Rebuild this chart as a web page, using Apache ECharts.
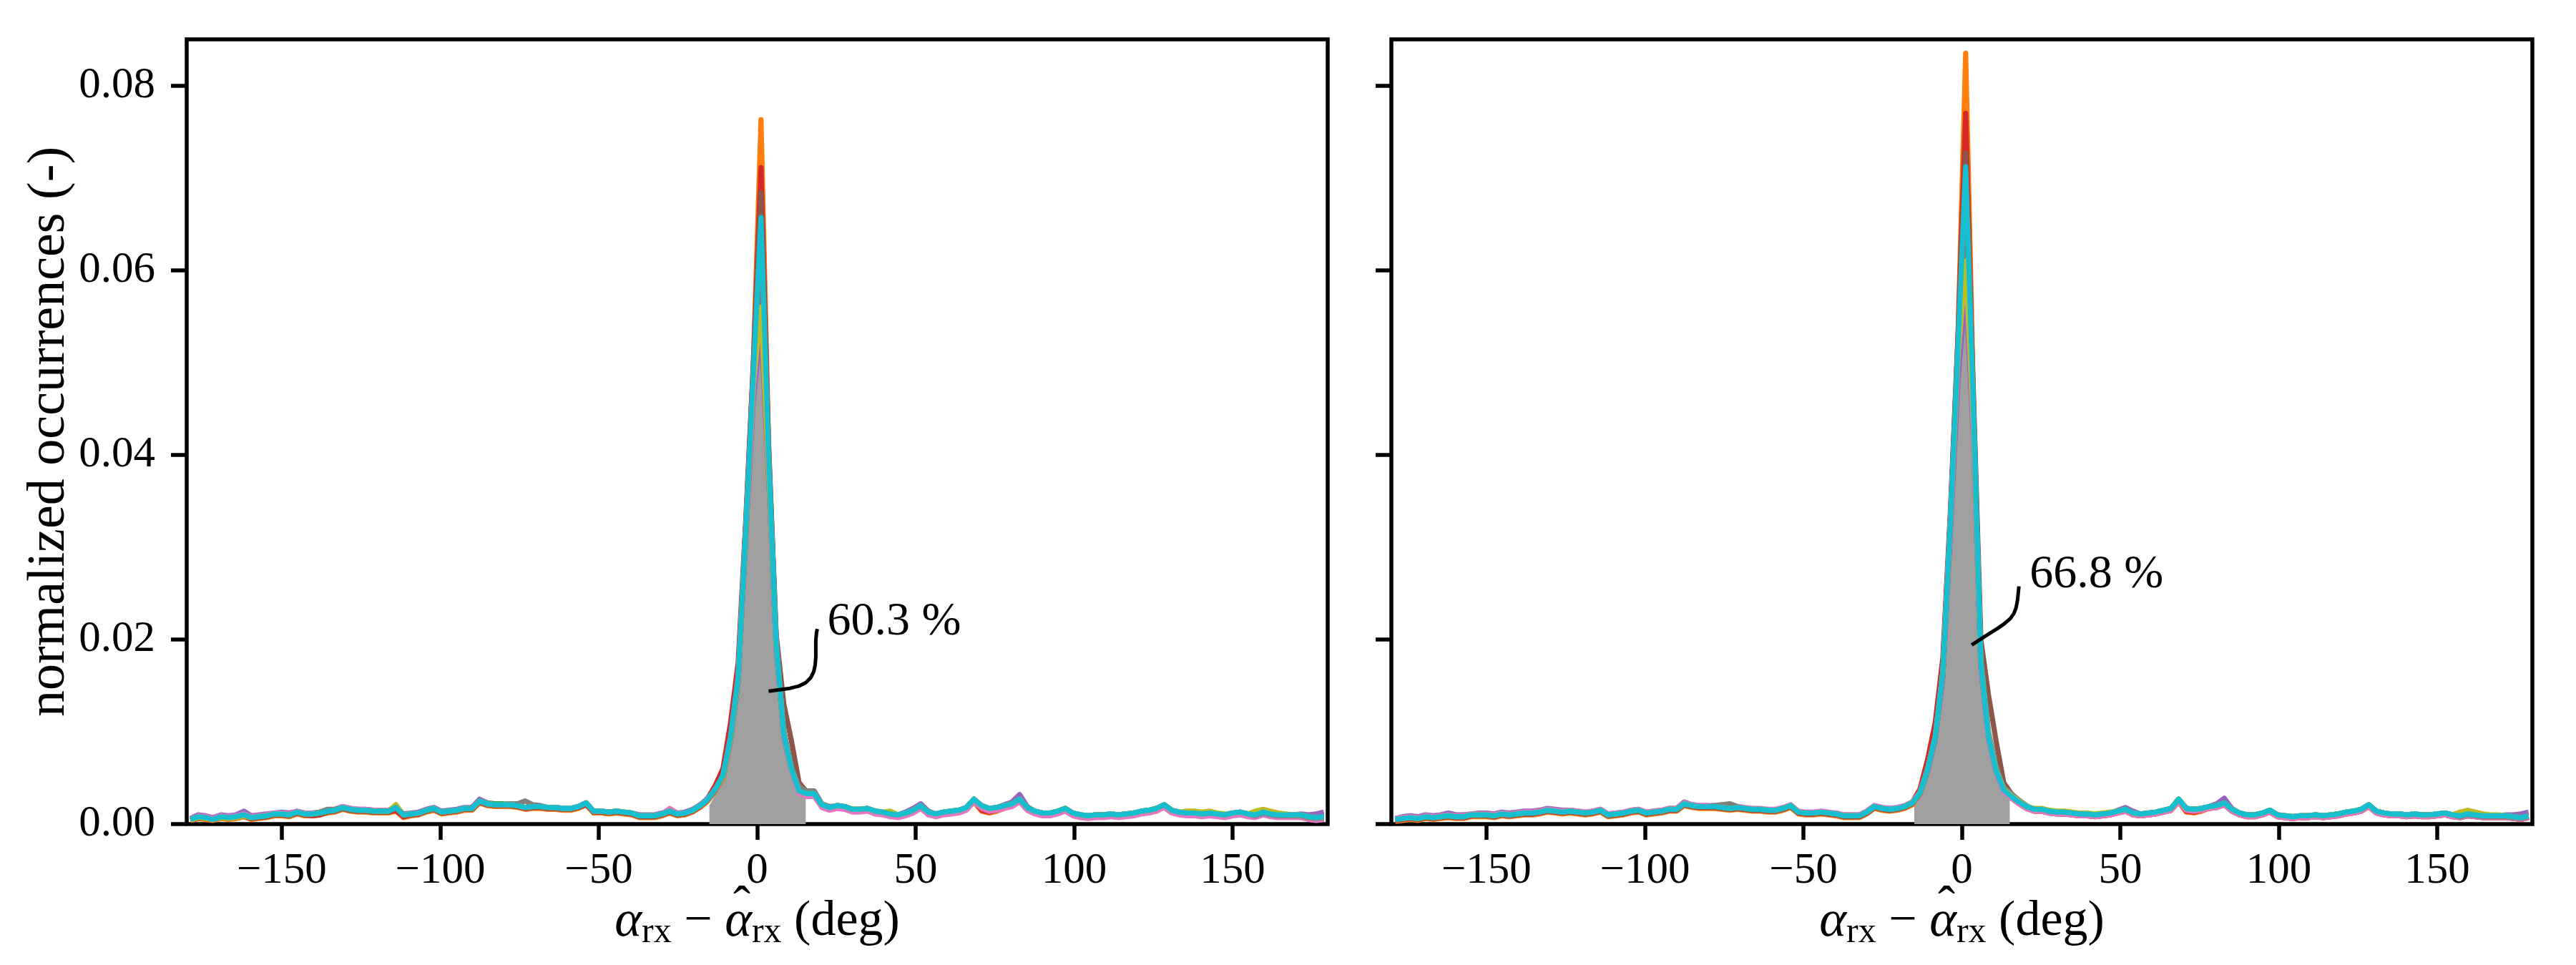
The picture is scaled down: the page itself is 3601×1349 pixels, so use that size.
<!DOCTYPE html>
<html><head><meta charset="utf-8">
<script src="https://cdn.jsdelivr.net/npm/echarts@6/dist/echarts.min.js"></script>
<style>html,body{margin:0;padding:0;background:#fff}#c{width:3601px;height:1349px}</style>
</head><body><div id="c"></div>
<script>
// ---------------- data ----------------
const binCenters = [
-178.8,-176.4,-174,-171.6,-169.2,-166.8,-164.4,-162,-159.6,-157.2,
-154.8,-152.4,-150,-147.6,-145.2,-142.8,-140.4,-138,-135.6,-133.2,
-130.8,-128.4,-126,-123.6,-121.2,-118.8,-116.4,-114,-111.6,-109.2,
-106.8,-104.4,-102,-99.6,-97.2,-94.8,-92.4,-90,-87.6,-85.2,
-82.8,-80.4,-78,-75.6,-73.2,-70.8,-68.4,-66,-63.6,-61.2,
-58.8,-56.4,-54,-51.6,-49.2,-46.8,-44.4,-42,-39.6,-37.2,
-34.8,-32.4,-30,-27.6,-25.2,-22.8,-20.4,-18,-15.6,-13.2,
-10.8,-8.4,-6,-3.6,-1.2,1.2,3.6,6,8.4,10.8,
13.2,15.6,18,20.4,22.8,25.2,27.6,30,32.4,34.8,
37.2,39.6,42,44.4,46.8,49.2,51.6,54,56.4,58.8,
61.2,63.6,66,68.4,70.8,73.2,75.6,78,80.4,82.8,
85.2,87.6,90,92.4,94.8,97.2,99.6,102,104.4,106.8,
109.2,111.6,114,116.4,118.8,121.2,123.6,126,128.4,130.8,
133.2,135.6,138,140.4,142.8,145.2,147.6,150,152.4,154.8,
157.2,159.6,162,164.4,166.8,169.2,171.6,174,176.4,178.8];

const xTicks = [-150,-100,-50,0,50,100,150];
const yTicks = [0,0.02,0.04,0.06,0.08];

// ---- left panel ----
const leftBlue = [
0.0004,0.0007,0.0006,0.0005,0.0007,0.0006,0.0007,0.0009,0.0006,0.0007,
0.0008,0.0010,0.0010,0.0009,0.0012,0.0010,0.0010,0.0011,0.0013,0.0014,
0.0017,0.0015,0.0014,0.0013,0.0013,0.0013,0.0013,0.0016,0.0009,0.0010,
0.0011,0.0014,0.0016,0.0012,0.0013,0.0014,0.0016,0.0016,0.0024,0.0021,
0.0020,0.0020,0.0020,0.0019,0.0017,0.0018,0.0018,0.0017,0.0017,0.0016,
0.0016,0.0018,0.0022,0.0013,0.0013,0.0012,0.0013,0.0012,0.0011,0.0008,
0.0008,0.0008,0.0010,0.0013,0.0010,0.0011,0.0014,0.0019,0.0026,0.0036,
0.0050,0.0090,0.0155,0.0315,0.0470,0.0600,0.0380,0.0190,0.0095,0.0058,
0.0034,0.0031,0.0031,0.0020,0.0017,0.0019,0.0018,0.0015,0.0015,0.0016,
0.0013,0.0012,0.0010,0.0009,0.0011,0.0014,0.0019,0.0012,0.0010,0.0012,
0.0013,0.0014,0.0017,0.0025,0.0019,0.0016,0.0017,0.0019,0.0021,0.0026,
0.0017,0.0013,0.0011,0.0011,0.0013,0.0016,0.0011,0.0009,0.0008,0.0009,
0.0009,0.0010,0.0009,0.0010,0.0011,0.0013,0.0014,0.0016,0.0020,0.0014,
0.0012,0.0011,0.0011,0.0010,0.0011,0.0010,0.0009,0.0011,0.0012,0.0010,
0.0009,0.0012,0.0010,0.0009,0.0009,0.0009,0.0009,0.0007,0.0006,0.0007];
const leftOrange = [
0.0004,0.0006,0.0005,0.0004,0.0006,0.0005,0.0006,0.0008,0.0005,0.0006,
0.0007,0.0009,0.0009,0.0008,0.0011,0.0009,0.0009,0.0010,0.0012,0.0013,
0.0016,0.0014,0.0013,0.0013,0.0012,0.0012,0.0012,0.0014,0.0007,0.0009,
0.0010,0.0013,0.0015,0.0011,0.0012,0.0013,0.0015,0.0015,0.0023,0.0020,
0.0019,0.0019,0.0019,0.0018,0.0016,0.0017,0.0017,0.0016,0.0016,0.0015,
0.0015,0.0017,0.0021,0.0012,0.0012,0.0011,0.0012,0.0011,0.0010,0.0007,
0.0007,0.0007,0.0009,0.0012,0.0009,0.0010,0.0013,0.0018,0.0025,0.0036,
0.0050,0.0092,0.0158,0.0325,0.0500,0.0763,0.0410,0.0198,0.0100,0.0060,
0.0034,0.0031,0.0031,0.0019,0.0016,0.0018,0.0017,0.0014,0.0014,0.0015,
0.0012,0.0011,0.0009,0.0008,0.0010,0.0013,0.0018,0.0011,0.0009,0.0011,
0.0012,0.0013,0.0016,0.0024,0.0014,0.0012,0.0014,0.0017,0.0020,0.0025,
0.0016,0.0012,0.0010,0.0010,0.0012,0.0015,0.0010,0.0008,0.0007,0.0008,
0.0008,0.0009,0.0008,0.0009,0.0010,0.0012,0.0013,0.0015,0.0019,0.0013,
0.0011,0.0010,0.0010,0.0009,0.0010,0.0009,0.0008,0.0010,0.0011,0.0009,
0.0008,0.0011,0.0009,0.0008,0.0008,0.0008,0.0008,0.0006,0.0005,0.0006];
const leftGreen = [
0.0005,0.0007,0.0007,0.0005,0.0008,0.0007,0.0008,0.0010,0.0007,0.0008,
0.0009,0.0011,0.0011,0.0010,0.0013,0.0011,0.0011,0.0012,0.0014,0.0015,
0.0018,0.0016,0.0015,0.0015,0.0014,0.0014,0.0014,0.0017,0.0010,0.0011,
0.0012,0.0015,0.0017,0.0013,0.0014,0.0015,0.0017,0.0017,0.0025,0.0023,
0.0022,0.0022,0.0021,0.0020,0.0018,0.0019,0.0019,0.0018,0.0018,0.0017,
0.0017,0.0019,0.0023,0.0014,0.0014,0.0013,0.0014,0.0013,0.0012,0.0009,
0.0009,0.0009,0.0011,0.0014,0.0011,0.0012,0.0015,0.0020,0.0027,0.0038,
0.0052,0.0094,0.0160,0.0318,0.0470,0.0580,0.0390,0.0195,0.0097,0.0060,
0.0036,0.0033,0.0033,0.0021,0.0018,0.0020,0.0019,0.0016,0.0016,0.0017,
0.0014,0.0013,0.0011,0.0010,0.0012,0.0015,0.0020,0.0013,0.0011,0.0013,
0.0014,0.0015,0.0018,0.0027,0.0020,0.0017,0.0018,0.0020,0.0022,0.0027,
0.0018,0.0014,0.0012,0.0012,0.0014,0.0017,0.0012,0.0010,0.0009,0.0010,
0.0010,0.0011,0.0010,0.0011,0.0012,0.0014,0.0015,0.0017,0.0021,0.0015,
0.0013,0.0012,0.0012,0.0011,0.0012,0.0011,0.0010,0.0012,0.0013,0.0011,
0.0010,0.0013,0.0011,0.0010,0.0010,0.0010,0.0010,0.0008,0.0007,0.0008];
const leftRed = [
0.0004,0.0006,0.0006,0.0005,0.0007,0.0006,0.0007,0.0009,0.0006,0.0007,
0.0008,0.0010,0.0010,0.0009,0.0012,0.0010,0.0009,0.0010,0.0013,0.0014,
0.0017,0.0015,0.0014,0.0014,0.0013,0.0013,0.0013,0.0015,0.0008,0.0010,
0.0011,0.0014,0.0016,0.0012,0.0013,0.0014,0.0016,0.0016,0.0024,0.0021,
0.0020,0.0020,0.0020,0.0019,0.0017,0.0018,0.0018,0.0017,0.0017,0.0016,
0.0016,0.0018,0.0021,0.0013,0.0013,0.0012,0.0013,0.0012,0.0011,0.0008,
0.0008,0.0008,0.0010,0.0013,0.0010,0.0011,0.0014,0.0019,0.0028,0.0042,
0.0060,0.0110,0.0175,0.0330,0.0500,0.0711,0.0405,0.0200,0.0100,0.0060,
0.0035,0.0032,0.0032,0.0020,0.0017,0.0019,0.0018,0.0015,0.0015,0.0016,
0.0013,0.0012,0.0010,0.0009,0.0011,0.0014,0.0019,0.0012,0.0010,0.0012,
0.0013,0.0014,0.0017,0.0026,0.0015,0.0013,0.0015,0.0018,0.0021,0.0026,
0.0017,0.0013,0.0011,0.0011,0.0013,0.0016,0.0011,0.0009,0.0008,0.0009,
0.0009,0.0010,0.0009,0.0010,0.0011,0.0013,0.0014,0.0016,0.0020,0.0014,
0.0012,0.0011,0.0011,0.0010,0.0011,0.0010,0.0009,0.0011,0.0012,0.0010,
0.0009,0.0012,0.0010,0.0009,0.0009,0.0009,0.0009,0.0007,0.0006,0.0007];
const leftPurple = [
0.0006,0.0010,0.0009,0.0007,0.0010,0.0009,0.0010,0.0014,0.0009,0.0010,
0.0011,0.0012,0.0013,0.0012,0.0014,0.0012,0.0012,0.0013,0.0015,0.0016,
0.0019,0.0017,0.0016,0.0016,0.0015,0.0015,0.0015,0.0019,0.0011,0.0012,
0.0013,0.0016,0.0018,0.0014,0.0015,0.0016,0.0018,0.0018,0.0027,0.0023,
0.0021,0.0021,0.0022,0.0020,0.0018,0.0019,0.0019,0.0018,0.0018,0.0017,
0.0017,0.0019,0.0023,0.0014,0.0014,0.0013,0.0014,0.0013,0.0012,0.0010,
0.0010,0.0010,0.0012,0.0015,0.0012,0.0013,0.0016,0.0021,0.0028,0.0038,
0.0052,0.0092,0.0155,0.0310,0.0460,0.0540,0.0375,0.0190,0.0097,0.0060,
0.0036,0.0033,0.0033,0.0021,0.0018,0.0020,0.0019,0.0016,0.0016,0.0017,
0.0014,0.0013,0.0011,0.0010,0.0013,0.0017,0.0022,0.0014,0.0011,0.0013,
0.0014,0.0015,0.0018,0.0027,0.0020,0.0017,0.0018,0.0021,0.0024,0.0032,
0.0019,0.0014,0.0012,0.0012,0.0014,0.0017,0.0012,0.0010,0.0009,0.0010,
0.0010,0.0011,0.0010,0.0011,0.0012,0.0014,0.0015,0.0017,0.0021,0.0015,
0.0013,0.0012,0.0012,0.0011,0.0012,0.0011,0.0010,0.0012,0.0013,0.0011,
0.0010,0.0013,0.0011,0.0010,0.0010,0.0010,0.0011,0.0010,0.0011,0.0013];
const leftBrown = [
0.0005,0.0007,0.0006,0.0005,0.0007,0.0006,0.0007,0.0009,0.0006,0.0007,
0.0008,0.0010,0.0010,0.0009,0.0012,0.0010,0.0010,0.0011,0.0013,0.0014,
0.0017,0.0015,0.0014,0.0014,0.0013,0.0013,0.0013,0.0017,0.0009,0.0010,
0.0011,0.0014,0.0016,0.0012,0.0013,0.0014,0.0016,0.0016,0.0024,0.0021,
0.0020,0.0020,0.0020,0.0019,0.0017,0.0018,0.0018,0.0017,0.0017,0.0016,
0.0016,0.0018,0.0022,0.0013,0.0013,0.0012,0.0013,0.0012,0.0011,0.0008,
0.0008,0.0008,0.0010,0.0013,0.0010,0.0011,0.0014,0.0019,0.0026,0.0037,
0.0052,0.0093,0.0158,0.0322,0.0495,0.0684,0.0410,0.0205,0.0130,0.0090,
0.0045,0.0035,0.0034,0.0020,0.0017,0.0019,0.0018,0.0015,0.0015,0.0016,
0.0013,0.0012,0.0010,0.0009,0.0011,0.0014,0.0019,0.0012,0.0010,0.0012,
0.0013,0.0014,0.0017,0.0026,0.0019,0.0016,0.0017,0.0019,0.0021,0.0026,
0.0017,0.0013,0.0011,0.0011,0.0013,0.0016,0.0011,0.0009,0.0008,0.0009,
0.0009,0.0010,0.0009,0.0010,0.0011,0.0013,0.0014,0.0016,0.0020,0.0014,
0.0012,0.0011,0.0011,0.0010,0.0011,0.0010,0.0009,0.0011,0.0012,0.0010,
0.0009,0.0012,0.0010,0.0009,0.0009,0.0009,0.0009,0.0007,0.0006,0.0007];
const leftPink = [
0.0005,0.0009,0.0008,0.0006,0.0009,0.0008,0.0009,0.0011,0.0008,0.0009,
0.0010,0.0012,0.0012,0.0011,0.0014,0.0012,0.0012,0.0013,0.0015,0.0016,
0.0019,0.0017,0.0016,0.0016,0.0015,0.0015,0.0015,0.0018,0.0010,0.0011,
0.0012,0.0015,0.0017,0.0013,0.0014,0.0015,0.0017,0.0017,0.0025,0.0022,
0.0021,0.0021,0.0021,0.0020,0.0018,0.0019,0.0019,0.0018,0.0018,0.0017,
0.0017,0.0019,0.0023,0.0014,0.0014,0.0013,0.0014,0.0013,0.0012,0.0009,
0.0009,0.0009,0.0011,0.0017,0.0012,0.0012,0.0015,0.0020,0.0027,0.0038,
0.0052,0.0093,0.0160,0.0320,0.0470,0.0570,0.0385,0.0192,0.0096,0.0058,
0.0033,0.0030,0.0030,0.0018,0.0015,0.0017,0.0016,0.0013,0.0013,0.0014,
0.0011,0.0010,0.0008,0.0007,0.0009,0.0012,0.0017,0.0010,0.0008,0.0010,
0.0011,0.0012,0.0015,0.0024,0.0017,0.0014,0.0015,0.0017,0.0019,0.0024,
0.0015,0.0011,0.0009,0.0009,0.0011,0.0014,0.0009,0.0007,0.0006,0.0007,
0.0007,0.0008,0.0007,0.0008,0.0009,0.0011,0.0012,0.0014,0.0018,0.0012,
0.0010,0.0009,0.0009,0.0008,0.0009,0.0008,0.0007,0.0009,0.0010,0.0008,
0.0007,0.0010,0.0008,0.0007,0.0007,0.0007,0.0007,0.0005,0.0004,0.0005];
const leftGray = [
0.0005,0.0008,0.0007,0.0005,0.0008,0.0007,0.0008,0.0010,0.0007,0.0008,
0.0009,0.0011,0.0011,0.0010,0.0013,0.0011,0.0011,0.0013,0.0016,0.0016,
0.0018,0.0016,0.0015,0.0015,0.0014,0.0014,0.0014,0.0018,0.0010,0.0011,
0.0012,0.0015,0.0017,0.0013,0.0014,0.0015,0.0017,0.0017,0.0025,0.0022,
0.0021,0.0021,0.0022,0.0022,0.0025,0.0021,0.0020,0.0018,0.0018,0.0017,
0.0017,0.0019,0.0023,0.0014,0.0014,0.0013,0.0014,0.0013,0.0012,0.0009,
0.0009,0.0009,0.0011,0.0014,0.0011,0.0012,0.0015,0.0020,0.0027,0.0038,
0.0052,0.0093,0.0158,0.0318,0.0480,0.0590,0.0390,0.0195,0.0100,0.0062,
0.0040,0.0036,0.0036,0.0022,0.0019,0.0020,0.0019,0.0016,0.0016,0.0017,
0.0014,0.0013,0.0011,0.0010,0.0012,0.0015,0.0020,0.0013,0.0011,0.0013,
0.0014,0.0015,0.0018,0.0027,0.0020,0.0017,0.0018,0.0020,0.0022,0.0027,
0.0018,0.0014,0.0012,0.0012,0.0014,0.0017,0.0012,0.0010,0.0009,0.0010,
0.0010,0.0011,0.0010,0.0011,0.0012,0.0014,0.0015,0.0017,0.0021,0.0015,
0.0013,0.0012,0.0012,0.0011,0.0012,0.0011,0.0010,0.0012,0.0013,0.0011,
0.0009,0.0012,0.0010,0.0009,0.0009,0.0009,0.0009,0.0007,0.0006,0.0007];
const leftOlive = [
0.0004,0.0007,0.0006,0.0005,0.0007,0.0006,0.0007,0.0009,0.0007,0.0008,
0.0009,0.0011,0.0011,0.0010,0.0013,0.0011,0.0011,0.0012,0.0014,0.0015,
0.0018,0.0016,0.0015,0.0015,0.0014,0.0014,0.0014,0.0021,0.0010,0.0011,
0.0012,0.0015,0.0017,0.0013,0.0014,0.0015,0.0017,0.0017,0.0025,0.0022,
0.0021,0.0021,0.0021,0.0020,0.0018,0.0019,0.0019,0.0018,0.0018,0.0017,
0.0017,0.0019,0.0023,0.0014,0.0014,0.0013,0.0014,0.0013,0.0012,0.0009,
0.0009,0.0009,0.0011,0.0014,0.0011,0.0012,0.0015,0.0020,0.0027,0.0038,
0.0052,0.0093,0.0158,0.0318,0.0480,0.0560,0.0385,0.0195,0.0098,0.0060,
0.0036,0.0033,0.0033,0.0021,0.0018,0.0020,0.0019,0.0016,0.0016,0.0017,
0.0014,0.0013,0.0014,0.0010,0.0012,0.0015,0.0020,0.0013,0.0011,0.0013,
0.0014,0.0015,0.0018,0.0027,0.0020,0.0017,0.0018,0.0020,0.0022,0.0027,
0.0018,0.0014,0.0012,0.0012,0.0014,0.0017,0.0012,0.0010,0.0009,0.0010,
0.0010,0.0011,0.0010,0.0011,0.0012,0.0014,0.0015,0.0017,0.0021,0.0015,
0.0013,0.0014,0.0014,0.0013,0.0014,0.0012,0.0011,0.0012,0.0013,0.0011,
0.0014,0.0016,0.0014,0.0012,0.0011,0.0010,0.0010,0.0008,0.0007,0.0008];
const leftCyan = [
0.0005,0.0008,0.0007,0.0005,0.0008,0.0007,0.0008,0.0010,0.0007,0.0008,
0.0009,0.0011,0.0011,0.0010,0.0013,0.0011,0.0011,0.0012,0.0014,0.0015,
0.0018,0.0016,0.0015,0.0015,0.0014,0.0014,0.0014,0.0018,0.0010,0.0011,
0.0012,0.0015,0.0017,0.0013,0.0014,0.0015,0.0017,0.0017,0.0025,0.0022,
0.0021,0.0021,0.0021,0.0020,0.0018,0.0019,0.0019,0.0018,0.0018,0.0017,
0.0017,0.0019,0.0023,0.0014,0.0014,0.0013,0.0014,0.0013,0.0012,0.0009,
0.0009,0.0009,0.0011,0.0014,0.0011,0.0012,0.0015,0.0020,0.0027,0.0038,
0.0053,0.0095,0.0160,0.0320,0.0490,0.0657,0.0400,0.0196,0.0098,0.0060,
0.0036,0.0033,0.0033,0.0021,0.0018,0.0020,0.0019,0.0016,0.0016,0.0017,
0.0014,0.0013,0.0011,0.0010,0.0012,0.0015,0.0020,0.0013,0.0011,0.0013,
0.0014,0.0015,0.0018,0.0027,0.0020,0.0017,0.0018,0.0020,0.0022,0.0027,
0.0018,0.0014,0.0012,0.0012,0.0014,0.0017,0.0012,0.0010,0.0009,0.0010,
0.0010,0.0011,0.0010,0.0011,0.0012,0.0014,0.0015,0.0017,0.0021,0.0015,
0.0013,0.0012,0.0012,0.0011,0.0012,0.0011,0.0010,0.0012,0.0013,0.0011,
0.0010,0.0013,0.0011,0.0010,0.0010,0.0010,0.0010,0.0008,0.0007,0.0008];
const leftFillX = [-15.1,-13.2,-10.8,-8.4,-6,-3.6,-1.2,1.2,3.6,6,8.4,10.8,13.2,15.3];
const leftFillY = [0.0020,0.0032,0.0048,0.0085,0.0150,0.0300,0.0450,0.0550,0.0370,0.0170,0.0088,0.0055,0.0032,0.0029];

// ---- right panel ----
const rightBlue = [
0.0004,0.0005,0.0006,0.0005,0.0007,0.0006,0.0007,0.0008,0.0007,0.0007,
0.0009,0.0009,0.0009,0.0008,0.0010,0.0009,0.0010,0.0011,0.0011,0.0012,
0.0014,0.0013,0.0012,0.0013,0.0012,0.0011,0.0012,0.0014,0.0009,0.0010,
0.0011,0.0013,0.0014,0.0011,0.0012,0.0013,0.0015,0.0015,0.0021,0.0019,
0.0018,0.0018,0.0018,0.0017,0.0016,0.0017,0.0016,0.0015,0.0015,0.0014,
0.0014,0.0016,0.0019,0.0012,0.0011,0.0011,0.0012,0.0011,0.0010,0.0008,
0.0008,0.0008,0.0012,0.0018,0.0016,0.0015,0.0016,0.0018,0.0022,0.0033,
0.0058,0.0092,0.0160,0.0325,0.0500,0.0640,0.0430,0.0170,0.0093,0.0057,
0.0036,0.0029,0.0023,0.0018,0.0015,0.0015,0.0013,0.0012,0.0012,0.0011,
0.0010,0.0010,0.0009,0.0010,0.0011,0.0013,0.0015,0.0011,0.0010,0.0011,
0.0012,0.0014,0.0016,0.0025,0.0016,0.0015,0.0016,0.0018,0.0019,0.0022,
0.0015,0.0011,0.0009,0.0009,0.0011,0.0014,0.0009,0.0008,0.0007,0.0008,
0.0008,0.0009,0.0008,0.0009,0.0010,0.0012,0.0013,0.0015,0.0020,0.0013,
0.0011,0.0010,0.0010,0.0009,0.0010,0.0009,0.0009,0.0010,0.0011,0.0009,
0.0008,0.0010,0.0009,0.0008,0.0008,0.0008,0.0008,0.0007,0.0006,0.0008];
const rightOrange = [
0.0003,0.0004,0.0005,0.0004,0.0006,0.0005,0.0006,0.0007,0.0006,0.0006,
0.0008,0.0008,0.0008,0.0007,0.0009,0.0008,0.0009,0.0010,0.0010,0.0011,
0.0013,0.0012,0.0011,0.0012,0.0011,0.0010,0.0011,0.0013,0.0008,0.0009,
0.0010,0.0012,0.0013,0.0010,0.0011,0.0012,0.0014,0.0014,0.0020,0.0018,
0.0017,0.0017,0.0017,0.0016,0.0015,0.0016,0.0015,0.0014,0.0014,0.0013,
0.0013,0.0015,0.0018,0.0011,0.0010,0.0010,0.0011,0.0010,0.0009,0.0007,
0.0007,0.0007,0.0011,0.0017,0.0015,0.0014,0.0015,0.0017,0.0021,0.0033,
0.0060,0.0096,0.0168,0.0335,0.0530,0.0835,0.0470,0.0178,0.0096,0.0058,
0.0036,0.0028,0.0022,0.0017,0.0014,0.0014,0.0012,0.0011,0.0011,0.0010,
0.0009,0.0009,0.0008,0.0009,0.0010,0.0012,0.0014,0.0010,0.0009,0.0010,
0.0011,0.0013,0.0015,0.0024,0.0013,0.0012,0.0014,0.0017,0.0018,0.0021,
0.0014,0.0010,0.0008,0.0008,0.0010,0.0013,0.0008,0.0007,0.0006,0.0007,
0.0007,0.0008,0.0007,0.0008,0.0009,0.0011,0.0012,0.0014,0.0019,0.0012,
0.0010,0.0009,0.0009,0.0008,0.0009,0.0008,0.0008,0.0009,0.0010,0.0008,
0.0007,0.0009,0.0008,0.0007,0.0007,0.0007,0.0007,0.0006,0.0005,0.0007];
const rightGreen = [
0.0005,0.0006,0.0007,0.0006,0.0008,0.0007,0.0008,0.0009,0.0008,0.0008,
0.0010,0.0010,0.0010,0.0009,0.0011,0.0010,0.0011,0.0012,0.0012,0.0013,
0.0015,0.0014,0.0013,0.0014,0.0013,0.0012,0.0013,0.0015,0.0010,0.0011,
0.0012,0.0014,0.0015,0.0012,0.0013,0.0014,0.0016,0.0016,0.0022,0.0020,
0.0019,0.0019,0.0019,0.0018,0.0017,0.0018,0.0017,0.0016,0.0016,0.0015,
0.0015,0.0017,0.0020,0.0013,0.0012,0.0012,0.0013,0.0012,0.0011,0.0009,
0.0009,0.0009,0.0013,0.0019,0.0017,0.0016,0.0017,0.0019,0.0023,0.0034,
0.0060,0.0094,0.0163,0.0328,0.0505,0.0620,0.0440,0.0174,0.0095,0.0058,
0.0037,0.0030,0.0024,0.0019,0.0016,0.0016,0.0014,0.0013,0.0013,0.0012,
0.0011,0.0011,0.0010,0.0011,0.0012,0.0014,0.0016,0.0012,0.0011,0.0012,
0.0013,0.0015,0.0017,0.0027,0.0017,0.0016,0.0017,0.0019,0.0020,0.0023,
0.0016,0.0012,0.0010,0.0010,0.0012,0.0015,0.0010,0.0009,0.0008,0.0009,
0.0009,0.0010,0.0009,0.0010,0.0011,0.0013,0.0014,0.0016,0.0021,0.0014,
0.0012,0.0011,0.0011,0.0010,0.0011,0.0010,0.0010,0.0011,0.0012,0.0010,
0.0009,0.0011,0.0010,0.0009,0.0009,0.0009,0.0009,0.0008,0.0007,0.0009];
const rightRed = [
0.0004,0.0005,0.0006,0.0005,0.0007,0.0006,0.0007,0.0008,0.0007,0.0007,
0.0009,0.0009,0.0009,0.0008,0.0010,0.0009,0.0010,0.0011,0.0011,0.0012,
0.0014,0.0013,0.0012,0.0013,0.0012,0.0011,0.0012,0.0014,0.0009,0.0010,
0.0011,0.0013,0.0014,0.0011,0.0012,0.0013,0.0015,0.0015,0.0021,0.0019,
0.0018,0.0018,0.0018,0.0017,0.0016,0.0017,0.0016,0.0015,0.0015,0.0014,
0.0014,0.0016,0.0019,0.0012,0.0011,0.0011,0.0012,0.0011,0.0010,0.0008,
0.0008,0.0008,0.0012,0.0018,0.0016,0.0015,0.0016,0.0018,0.0024,0.0038,
0.0070,0.0110,0.0180,0.0340,0.0530,0.0770,0.0460,0.0178,0.0095,0.0058,
0.0036,0.0029,0.0023,0.0017,0.0014,0.0014,0.0012,0.0011,0.0011,0.0010,
0.0009,0.0009,0.0008,0.0009,0.0010,0.0012,0.0014,0.0010,0.0009,0.0010,
0.0011,0.0013,0.0015,0.0025,0.0014,0.0013,0.0015,0.0017,0.0018,0.0021,
0.0014,0.0010,0.0008,0.0008,0.0010,0.0013,0.0008,0.0007,0.0006,0.0007,
0.0007,0.0008,0.0007,0.0008,0.0009,0.0011,0.0012,0.0014,0.0019,0.0012,
0.0010,0.0009,0.0009,0.0008,0.0009,0.0008,0.0008,0.0009,0.0010,0.0008,
0.0007,0.0009,0.0008,0.0007,0.0007,0.0007,0.0007,0.0006,0.0005,0.0007];
const rightPurple = [
0.0006,0.0008,0.0009,0.0008,0.0010,0.0009,0.0010,0.0012,0.0010,0.0010,
0.0011,0.0012,0.0012,0.0011,0.0013,0.0012,0.0013,0.0014,0.0014,0.0015,
0.0017,0.0016,0.0015,0.0015,0.0014,0.0013,0.0014,0.0016,0.0011,0.0012,
0.0013,0.0015,0.0016,0.0013,0.0014,0.0015,0.0017,0.0017,0.0024,0.0021,
0.0020,0.0020,0.0019,0.0018,0.0017,0.0018,0.0017,0.0016,0.0016,0.0015,
0.0015,0.0017,0.0020,0.0013,0.0012,0.0012,0.0013,0.0012,0.0011,0.0010,
0.0010,0.0010,0.0014,0.0020,0.0018,0.0017,0.0018,0.0020,0.0024,0.0034,
0.0058,0.0092,0.0158,0.0315,0.0480,0.0580,0.0420,0.0170,0.0093,0.0057,
0.0036,0.0029,0.0023,0.0018,0.0015,0.0015,0.0014,0.0013,0.0013,0.0012,
0.0011,0.0011,0.0010,0.0011,0.0012,0.0015,0.0018,0.0014,0.0011,0.0012,
0.0013,0.0015,0.0017,0.0027,0.0017,0.0016,0.0017,0.0019,0.0022,0.0028,
0.0017,0.0012,0.0010,0.0010,0.0012,0.0015,0.0010,0.0009,0.0008,0.0009,
0.0009,0.0010,0.0009,0.0010,0.0011,0.0013,0.0014,0.0016,0.0021,0.0014,
0.0012,0.0011,0.0011,0.0010,0.0011,0.0010,0.0010,0.0011,0.0012,0.0010,
0.0009,0.0011,0.0010,0.0009,0.0009,0.0009,0.0010,0.0010,0.0011,0.0013];
const rightBrown = [
0.0004,0.0005,0.0006,0.0005,0.0007,0.0006,0.0007,0.0008,0.0007,0.0007,
0.0009,0.0009,0.0009,0.0008,0.0010,0.0009,0.0010,0.0011,0.0011,0.0012,
0.0014,0.0013,0.0012,0.0013,0.0012,0.0011,0.0012,0.0014,0.0009,0.0010,
0.0011,0.0013,0.0014,0.0011,0.0012,0.0013,0.0015,0.0015,0.0021,0.0019,
0.0018,0.0018,0.0018,0.0017,0.0016,0.0017,0.0016,0.0015,0.0015,0.0014,
0.0014,0.0016,0.0019,0.0012,0.0011,0.0011,0.0012,0.0011,0.0010,0.0008,
0.0008,0.0008,0.0012,0.0018,0.0016,0.0015,0.0016,0.0018,0.0022,0.0033,
0.0060,0.0095,0.0165,0.0332,0.0525,0.0727,0.0470,0.0200,0.0140,0.0090,
0.0045,0.0033,0.0025,0.0018,0.0015,0.0015,0.0013,0.0012,0.0012,0.0011,
0.0010,0.0010,0.0009,0.0010,0.0011,0.0013,0.0015,0.0011,0.0010,0.0011,
0.0012,0.0014,0.0016,0.0026,0.0016,0.0015,0.0016,0.0018,0.0019,0.0022,
0.0015,0.0011,0.0009,0.0009,0.0011,0.0014,0.0009,0.0008,0.0007,0.0008,
0.0008,0.0009,0.0008,0.0009,0.0010,0.0012,0.0013,0.0015,0.0020,0.0013,
0.0011,0.0010,0.0010,0.0009,0.0010,0.0009,0.0009,0.0010,0.0011,0.0009,
0.0008,0.0010,0.0009,0.0008,0.0008,0.0008,0.0008,0.0007,0.0006,0.0008];
const rightPink = [
0.0006,0.0007,0.0008,0.0007,0.0009,0.0008,0.0009,0.0010,0.0009,0.0009,
0.0011,0.0011,0.0011,0.0010,0.0012,0.0011,0.0012,0.0013,0.0013,0.0014,
0.0016,0.0015,0.0014,0.0015,0.0014,0.0013,0.0014,0.0016,0.0011,0.0012,
0.0013,0.0015,0.0016,0.0013,0.0014,0.0015,0.0017,0.0017,0.0023,0.0021,
0.0020,0.0020,0.0020,0.0019,0.0018,0.0019,0.0018,0.0017,0.0017,0.0016,
0.0016,0.0018,0.0021,0.0014,0.0013,0.0013,0.0014,0.0013,0.0012,0.0010,
0.0010,0.0010,0.0014,0.0020,0.0018,0.0017,0.0018,0.0020,0.0024,0.0035,
0.0060,0.0094,0.0164,0.0328,0.0505,0.0610,0.0430,0.0172,0.0093,0.0057,
0.0035,0.0028,0.0022,0.0017,0.0014,0.0014,0.0012,0.0011,0.0011,0.0010,
0.0009,0.0009,0.0008,0.0009,0.0010,0.0012,0.0014,0.0010,0.0009,0.0010,
0.0011,0.0013,0.0015,0.0024,0.0015,0.0014,0.0015,0.0017,0.0018,0.0021,
0.0014,0.0010,0.0008,0.0008,0.0010,0.0013,0.0008,0.0007,0.0006,0.0007,
0.0007,0.0008,0.0007,0.0008,0.0009,0.0011,0.0012,0.0014,0.0019,0.0012,
0.0010,0.0009,0.0009,0.0008,0.0009,0.0008,0.0008,0.0009,0.0010,0.0008,
0.0007,0.0009,0.0008,0.0007,0.0007,0.0007,0.0007,0.0006,0.0005,0.0007];
const rightGray = [
0.0005,0.0006,0.0007,0.0006,0.0008,0.0007,0.0008,0.0009,0.0008,0.0008,
0.0010,0.0010,0.0010,0.0009,0.0011,0.0010,0.0011,0.0012,0.0012,0.0013,
0.0015,0.0014,0.0013,0.0014,0.0013,0.0012,0.0013,0.0015,0.0010,0.0011,
0.0012,0.0014,0.0015,0.0012,0.0013,0.0014,0.0016,0.0016,0.0022,0.0020,
0.0019,0.0019,0.0020,0.0021,0.0022,0.0019,0.0017,0.0016,0.0016,0.0015,
0.0015,0.0017,0.0020,0.0013,0.0012,0.0012,0.0013,0.0012,0.0011,0.0009,
0.0009,0.0009,0.0013,0.0019,0.0017,0.0016,0.0017,0.0019,0.0023,0.0034,
0.0060,0.0095,0.0165,0.0328,0.0510,0.0630,0.0445,0.0178,0.0100,0.0062,
0.0040,0.0033,0.0026,0.0020,0.0016,0.0016,0.0014,0.0013,0.0013,0.0012,
0.0011,0.0011,0.0010,0.0011,0.0012,0.0014,0.0016,0.0012,0.0011,0.0012,
0.0013,0.0015,0.0017,0.0027,0.0017,0.0016,0.0017,0.0019,0.0020,0.0023,
0.0016,0.0012,0.0010,0.0010,0.0012,0.0015,0.0010,0.0009,0.0008,0.0009,
0.0009,0.0010,0.0009,0.0010,0.0011,0.0013,0.0014,0.0016,0.0021,0.0014,
0.0012,0.0011,0.0011,0.0010,0.0011,0.0010,0.0010,0.0011,0.0012,0.0010,
0.0008,0.0010,0.0009,0.0008,0.0008,0.0008,0.0008,0.0007,0.0006,0.0008];
const rightOlive = [
0.0005,0.0006,0.0007,0.0006,0.0008,0.0007,0.0008,0.0009,0.0008,0.0008,
0.0010,0.0010,0.0010,0.0009,0.0011,0.0010,0.0011,0.0012,0.0012,0.0013,
0.0015,0.0014,0.0013,0.0014,0.0013,0.0012,0.0013,0.0015,0.0010,0.0011,
0.0012,0.0014,0.0015,0.0012,0.0013,0.0014,0.0016,0.0016,0.0022,0.0020,
0.0019,0.0019,0.0019,0.0018,0.0017,0.0018,0.0017,0.0016,0.0016,0.0015,
0.0015,0.0017,0.0020,0.0013,0.0012,0.0012,0.0013,0.0012,0.0011,0.0009,
0.0009,0.0009,0.0013,0.0019,0.0017,0.0016,0.0017,0.0019,0.0023,0.0034,
0.0060,0.0095,0.0165,0.0328,0.0510,0.0610,0.0440,0.0176,0.0096,0.0059,
0.0038,0.0031,0.0025,0.0019,0.0017,0.0017,0.0015,0.0014,0.0014,0.0013,
0.0012,0.0012,0.0011,0.0012,0.0013,0.0014,0.0016,0.0012,0.0011,0.0012,
0.0013,0.0015,0.0017,0.0027,0.0017,0.0016,0.0017,0.0019,0.0020,0.0023,
0.0016,0.0012,0.0010,0.0010,0.0012,0.0015,0.0010,0.0009,0.0008,0.0009,
0.0009,0.0010,0.0009,0.0010,0.0011,0.0013,0.0014,0.0016,0.0021,0.0014,
0.0012,0.0011,0.0011,0.0010,0.0011,0.0010,0.0010,0.0011,0.0012,0.0010,
0.0013,0.0015,0.0013,0.0011,0.0010,0.0010,0.0009,0.0008,0.0007,0.0009];
const rightCyan = [
0.0005,0.0006,0.0007,0.0006,0.0008,0.0007,0.0008,0.0009,0.0008,0.0008,
0.0010,0.0010,0.0010,0.0009,0.0011,0.0010,0.0011,0.0012,0.0012,0.0013,
0.0015,0.0014,0.0013,0.0014,0.0013,0.0012,0.0013,0.0015,0.0010,0.0011,
0.0012,0.0014,0.0015,0.0012,0.0013,0.0014,0.0016,0.0016,0.0022,0.0020,
0.0019,0.0019,0.0019,0.0018,0.0017,0.0018,0.0017,0.0016,0.0016,0.0015,
0.0015,0.0017,0.0020,0.0013,0.0012,0.0012,0.0013,0.0012,0.0011,0.0009,
0.0009,0.0009,0.0013,0.0019,0.0017,0.0016,0.0017,0.0019,0.0023,0.0034,
0.0060,0.0095,0.0165,0.0330,0.0520,0.0712,0.0457,0.0175,0.0095,0.0058,
0.0037,0.0030,0.0024,0.0019,0.0016,0.0016,0.0014,0.0013,0.0013,0.0012,
0.0011,0.0011,0.0010,0.0011,0.0012,0.0014,0.0016,0.0012,0.0011,0.0012,
0.0013,0.0015,0.0017,0.0027,0.0017,0.0016,0.0017,0.0019,0.0020,0.0023,
0.0016,0.0012,0.0010,0.0010,0.0012,0.0015,0.0010,0.0009,0.0008,0.0009,
0.0009,0.0010,0.0009,0.0010,0.0011,0.0013,0.0014,0.0016,0.0021,0.0014,
0.0012,0.0011,0.0011,0.0010,0.0011,0.0010,0.0010,0.0011,0.0012,0.0010,
0.0009,0.0011,0.0010,0.0009,0.0009,0.0009,0.0009,0.0008,0.0007,0.0009];
const rightFillX = [-15,-13.2,-10.8,-8.4,-6,-3.6,-1.2,1.2,3.6,6,8.4,10.8,13.2,15.1];
const rightFillY = [0.0022,0.0032,0.0052,0.0085,0.0160,0.0310,0.0470,0.0560,0.0400,0.0160,0.0085,0.0055,0.0035,0.0030];

const leftAnnotation = {text: '60.3 %', x: 3.6, y: 0.0144};
const rightAnnotation = {text: '66.8 %', x: 3.1, y: 0.0194};

// ---------------- styling ----------------
const FONT = 'Liberation Serif';
const COLORS = ['#1f77b4','#ff7f0e','#2ca02c','#d62728','#9467bd','#8c564b','#e377c2','#7f7f7f','#bcbd22','#17becf'];
const leftLines = [leftBlue,leftOrange,leftGreen,leftRed,leftPurple,leftBrown,leftPink,leftGray,leftOlive,leftCyan];
const rightLines = [rightBlue,rightOrange,rightGreen,rightRed,rightPurple,rightBrown,rightPink,rightGray,rightOlive,rightCyan];

function pairs(xs, ys){ return xs.map((x,i)=>[x, ys[i]]); }

function panelSeries(idx, fillX, fillY, lines){
  const out = [{
    type:'line', xAxisIndex:idx, yAxisIndex:idx, data:pairs(fillX, fillY),
    symbol:'none', lineStyle:{width:0, opacity:0}, areaStyle:{color:'#a0a0a0', opacity:1},
    silent:true, z:1, animation:false
  }];
  lines.forEach((ys,k)=>out.push({
    type:'line', xAxisIndex:idx, yAxisIndex:idx, data:pairs(binCenters, ys),
    symbol:'none', lineStyle:{width:7.2, color:COLORS[k], join:'round', cap:'butt'},
    itemStyle:{color:COLORS[k]}, silent:true, z:2, animation:false
  }));
  return out;
}

// x axis title pieces (the hat over the second alpha is added as a separate text mark)
const xNameParts = ['α','rx',' \u2212 ','α','rx',' (deg)'];
const FONT_I = 'italic 72px "Liberation Serif"', FONT_S = '50px "Liberation Serif"', FONT_M = '70px "Liberation Serif"';
const mctx = document.createElement('canvas').getContext('2d');
function tw(t, f){ mctx.font = f; return mctx.measureText(t).width; }
const partFonts = [FONT_I, FONT_S, FONT_M, FONT_I, FONT_S, FONT_M];
const partW = xNameParts.map((t,i)=>tw(t, partFonts[i]));
const totalW = partW.reduce((a,b)=>a+b,0);
const hatCenterFromLeft = partW[0]+partW[1]+partW[2]+partW[3]/2 + 5;

const X_NAME_GAP = 79;
const xName = `{i|${xNameParts[0]}}{s|${xNameParts[1]}}{m|${xNameParts[2]}}{i|${xNameParts[3]}}{s|${xNameParts[4]}}{m|${xNameParts[5]}}`;
function makeX(idx){
  return {
    gridIndex:idx, type:'value', min:-180, max:180,
    axisLine:{show:false, onZero:false}, splitLine:{show:false},
    axisTick:{show:true, inside:false, length:22, customValues:xTicks, lineStyle:{color:'#000', width:5.5}},
    axisLabel:{customValues:xTicks, margin:35, color:'#000', fontFamily:FONT, fontSize:61,
      formatter:v => v < 0 ? '\u2212' + Math.abs(v) : String(v)},
    name:xName, nameLocation:'middle', nameGap:X_NAME_GAP,
    nameTextStyle:{color:'#000', fontFamily:FONT, fontSize:70,
      rich:{
        i:{fontFamily:FONT, fontStyle:'italic', fontSize:72, lineHeight:80, color:'#000'},
        s:{fontFamily:FONT, fontSize:50, lineHeight:40, verticalAlign:'bottom', color:'#000'},
        m:{fontFamily:FONT, fontSize:70, lineHeight:80, color:'#000'}
      }}
  };
}
function makeY(idx, withLabels){
  return {
    gridIndex:idx, type:'value', min:0, max:0.085,
    axisLine:{show:false, onZero:false}, splitLine:{show:false},
    axisTick:{show:true, inside:false, length:22, customValues:yTicks, lineStyle:{color:'#000', width:5.5}},
    axisLabel:{show:withLabels, customValues:yTicks, margin:44, color:'#000', fontFamily:FONT, fontSize:61,
      formatter:v => v.toFixed(2)},
    name: withLabels ? 'normalized occurrences (-)' : '',
    nameLocation:'middle', nameGap:143,
    nameTextStyle:{color:'#000', fontFamily:FONT, fontSize:74}
  };
}

const GRIDS = [
  {left:261, top:55, width:1595, height:1097},
  {left:1945, top:55, width:1595, height:1097}
];
const chart = echarts.init(document.getElementById('c'), null, {renderer:'canvas'});
const option = {
  animation:false,
  backgroundColor:'#ffffff',
  grid: GRIDS.map(g => Object.assign({show:true, borderColor:'#000', borderWidth:5.5, backgroundColor:'transparent'}, g)),
  xAxis:[makeX(0), makeX(1)],
  yAxis:[makeY(0,true), makeY(1,false)],
  series:[].concat(
    panelSeries(0, leftFillX, leftFillY, leftLines),
    panelSeries(1, rightFillX, rightFillY, rightLines)
  )
};
chart.setOption(option);

// annotation connectors (pixel offsets from the anchored data point)
const leftPath = [[0,0],[15,-2],[30,-4],[42,-7],[52,-12],[59,-19],[63,-27],[65,-36],[66,-48],[66,-60],[66,-72],[67,-82],[68,-87]];
const rightPath = [[0,0],[20,-13],[36,-23],[46,-30],[54,-37],[59,-44],[62,-52],[64,-62],[65,-72],[66,-82]];
function annot(gridIdx, ann, path, textOff){
  const p = chart.convertToPixel({gridIndex:gridIdx}, [ann.x, ann.y]);
  return [
    {type:'polyline', z:100, silent:true,
     shape:{points:path.map(o=>[p[0]+o[0], p[1]+o[1]])},
     style:{stroke:'#000', lineWidth:5, fill:null, lineJoin:'round', lineCap:'butt'}},
    {type:'text', z:100, silent:true, x:p[0]+textOff[0], y:p[1]+textOff[1],
     style:{text:ann.text, fontFamily:FONT, fontSize:66, fill:'#000',
            align:'left', verticalAlign:'middle', textAlign:'left', textVerticalAlign:'middle'}}
  ];
}
function hat(gridIdx){
  const g = GRIDS[gridIdx];
  const cx = g.left + g.width/2 - totalW/2 + hatCenterFromLeft;
  return {type:'text', z:100, silent:true, x:cx, y:g.top + g.height + X_NAME_GAP + 38,
    style:{text:'\u02C6', fontFamily:FONT, fontSize:72, fill:'#000',
           align:'center', verticalAlign:'middle', textAlign:'center', textVerticalAlign:'middle'}};
}
chart.setOption({graphic:{elements:[].concat(
  annot(0, leftAnnotation, leftPath, [82,-96]),
  annot(1, rightAnnotation, rightPath, [81,-98]),
  [hat(0), hat(1)]
)}});
</script></body></html>
